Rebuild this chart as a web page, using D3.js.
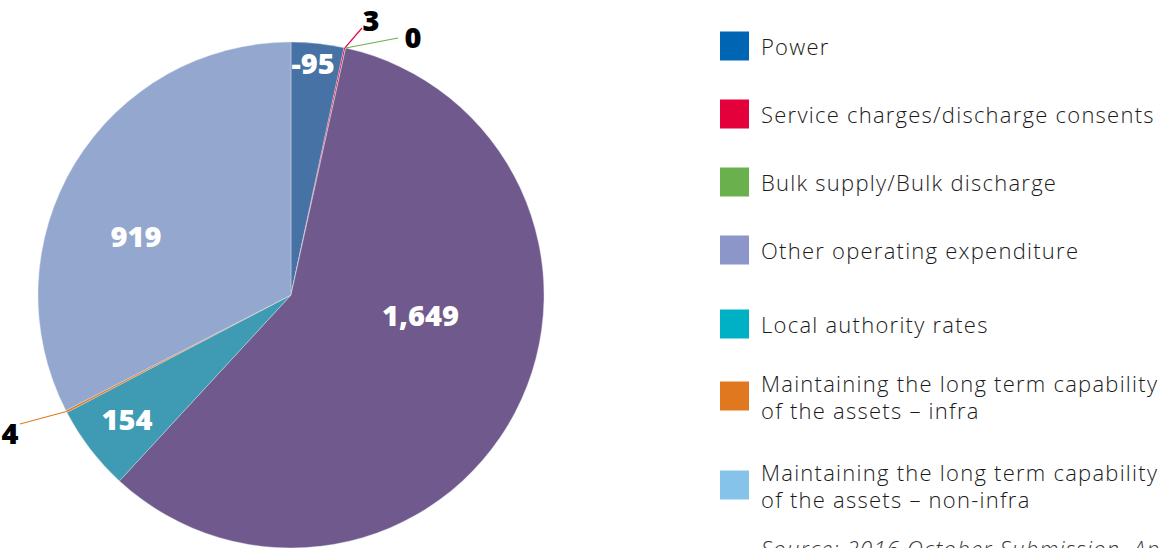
<!DOCTYPE html>
<html><head><meta charset="utf-8">
<script src="https://cdn.jsdelivr.net/npm/d3@7"></script>
<style>body{margin:0;background:#fff;overflow:hidden}svg{display:block}</style>
</head><body>
<svg id="c" width="1162" height="548"></svg>
<script>
const categories = ["Power","Service charges/discharge consents","Bulk supply/Bulk discharge","Other operating expenditure","Local authority rates","Maintaining the long term capability\nof the assets \u2013 infra","Maintaining the long term capability\nof the assets \u2013 non-infra"];
const values = [-95, 3, 0, 1649, 154, 4, 919];
const valueLabels = ["-95","3","0","1,649","154","4","919"];
const sliceColors = ["#4672a5","#e4003b","#6ab04c","#70598d","#3f9bb3","#e07b20","#94a8cf"];
const legendColors = ["#0066b3","#e4003b","#6ab04c","#8c96c9","#00b0c4","#e07820","#86c3ea"];
const sourceText = "Source: 2016 October Submission, Appendix";

// layout (not data)
const cx = 291, cy = 295, R = 253;
const inside = {0:{f:0.45,r:234},3:{f:0.41,r:131},4:{f:0.53,r:205},6:{f:0.41,r:166}};
const outside = {1:{end:[71,-267],lab:[80,-276]},2:{end:[107,-257],lab:[122,-259]},5:{end:[-271,129],lab:[-281,137]}};

const svg = d3.select("#c");
const g = svg.append("g").attr("transform",`translate(${cx},${cy})`);
const pie = d3.pie().value(d=>Math.abs(d)).sort(null);
const arcs = pie(values);
const arc = d3.arc().innerRadius(0).outerRadius(R);

g.selectAll("path.s").data(arcs).join("path").attr("class","s")
  .attr("d",arc).attr("fill",(d,i)=>sliceColors[i])
  .attr("stroke","#dfe3ee").attr("stroke-width",0.4);

const numFont = "'Open Sans', Lato, sans-serif";
function pt(a,r){return [r*Math.sin(a),-r*Math.cos(a)];}
arcs.forEach((d,i)=>{
  if(inside[i]){
    const a = d.startAngle + (d.endAngle-d.startAngle)*inside[i].f;
    const p = pt(a,inside[i].r);
    g.append("text").attr("x",p[0]).attr("y",p[1]).attr("text-anchor","middle")
      .attr("dominant-baseline","central").attr("fill","#fff")
      .attr("font-family",numFont).attr("font-weight",800).attr("font-size",29)
      .text(valueLabels[i]);
  }
  if(outside[i]){
    const a = (d.startAngle+d.endAngle)/2;
    const p = pt(a,R);
    const o = outside[i];
    g.append("line").attr("x1",p[0]).attr("y1",p[1]).attr("x2",o.end[0]).attr("y2",o.end[1])
      .attr("stroke",sliceColors[i]).attr("stroke-width",1.2);
    g.append("text").attr("x",o.lab[0]).attr("y",o.lab[1]).attr("text-anchor","middle")
      .attr("dominant-baseline","central").attr("fill","#000")
      .attr("font-family",numFont).attr("font-weight",800).attr("font-size",29)
      .text(valueLabels[i]);
  }
});

// legend
const legY = [46,114,182,250,324,396,485];
const lg = svg.append("g");
const legFont = "'Open Sans', Lato, sans-serif";
const probe = svg.append("text").attr("font-family",legFont).attr("font-weight",300).attr("font-size",22).text("Maintaining the long term capability");
const w = probe.node().getComputedTextLength();
probe.remove();
const ls = Math.max(0,(396 - w)/35);
categories.forEach((c,i)=>{
  lg.append("rect").attr("x",720).attr("y",legY[i]-14.5).attr("width",29).attr("height",29).attr("fill",legendColors[i]);
  const lines = c.split("\n");
  const t = lg.append("text").attr("font-family",legFont).attr("font-weight",300)
    .attr("font-size",22).attr("fill","#1a1a1a").attr("letter-spacing",ls);
  const y0 = legY[i] - (lines.length-1)*13.5;
  lines.forEach((l,k)=>{
    t.append("tspan").attr("x",761).attr("y",y0+k*27).attr("dominant-baseline","central").text(l);
  });
});
svg.append("text").attr("x",761).attr("y",557).attr("font-family",legFont)
  .attr("font-style","italic").attr("font-weight",300).attr("font-size",22).attr("fill","#333")
  .attr("letter-spacing",ls).text(sourceText);
</script>
</body></html>
